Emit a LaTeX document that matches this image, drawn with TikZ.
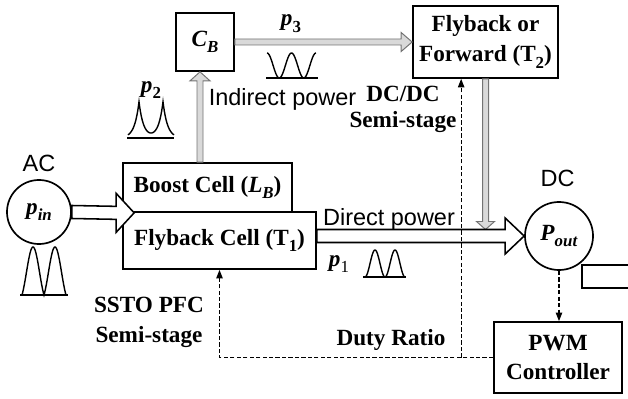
\documentclass[tikz,border=0pt]{standalone}
\usepackage{fontspec}
\setmainfont{Liberation Serif}
\setsansfont{Liberation Sans}
\usetikzlibrary{arrows.meta, calc}
\tikzset{
  blk/.style={draw, line width=1.2pt, align=center, inner sep=0pt, font=\bfseries\fontsize{16.5}{21.3}\selectfont},
  port/.style={draw, circle, line width=1.2pt, inner sep=0pt, font=\bfseries\fontsize{16.5}{20}\selectfont},
  fat/.style={draw, line width=1.1pt, fill=white},
  pipe/.style={draw=black!55, fill=black!15, line width=0.7pt},
  ctrl/.style={line width=0.9pt, dash pattern=on 3pt off 1.6pt, -{Triangle[length=6pt, width=4.5pt]}},
  lbl/.style={font=\sffamily\fontsize{16.7}{20}\selectfont, inner sep=0pt, anchor=base},
  tag/.style={font=\bfseries\fontsize{16.5}{21}\selectfont, align=center, inner sep=0pt},
  sig/.style={font=\bfseries\fontsize{16.5}{20}\selectfont, inner sep=0pt, anchor=base},
  wave/.style={line width=1pt},
}
\newcommand{\lowsub}[1]{\raisebox{-0.6ex}{\fontsize{12}{12}\selectfont #1}}
% hollow power arrows: tail, tip, half shaft, half head, head length
\newcommand{\hpipe}[6][fat]{%
  \draw[#1] ($(#2)+(0,-#4)$) -- ($(#3)+(-#6,-#4)$) -- ($(#3)+(-#6,-#5)$) -- (#3)
    -- ($(#3)+(-#6,#5)$) -- ($(#3)+(-#6,#4)$) -- ($(#2)+(0,#4)$) -- cycle;}
\newcommand{\vpipe}[6][fat]{%
  \draw[#1] ($(#2)+(-#4,0)$) -- ($(#3)+(-#4,#6)$) -- ($(#3)+(-#5,#6)$) -- (#3)
    -- ($(#3)+(#5,#6)$) -- ($(#3)+(#4,#6)$) -- ($(#2)+(#4,0)$) -- cycle;}

\begin{document}
\begin{tikzpicture}[x=0.025cm, y=-0.025cm]
  \useasboundingbox (0,0) rectangle (628,399);

  % blocks
  \node[blk, minimum width=1.45cm, minimum height=1.45cm] (CB) at (205,42) {\textit{C}\lowsub{\textit{B}}};
  \node[blk, minimum width=3.625cm, minimum height=1.8cm] (FF) at (485.5,42) {Flyback or\\Forward (T\lowsub{2})};
  \node[blk, minimum width=4.225cm, minimum height=1.225cm] (boost) at (207.5,187.5) {Boost Cell (\textit{L}\lowsub{\textit{B}})};
  \node[blk, minimum width=4.825cm, minimum height=1.425cm] (flyback) at (219.5,240.5) {Flyback Cell (T\lowsub{1})};
  \node[blk, font=\bfseries\fontsize{16.5}{20}\selectfont, minimum width=3.2cm, minimum height=1.775cm] (PWM) at (558,357.5) {PWM\\Controller};
  \node[port, minimum size=1.6cm] (AC) at (39,212) {\textit{p}\lowsub{\textit{in}}};
  \node[port, minimum size=1.7cm] (Pout) at (559,236) {\textit{P}\lowsub{\textit{out}}};
  \draw[line width=1.2pt] (629,265) -- (582,265) -- (582,288) -- (629,288);

  % power flow
  \coordinate (ibot) at ($(boost.north)+(-7.5,0)$);
  \coordinate (itop) at (ibot |- CB.south);
  \coordinate (dtip) at ($(FF.south |- Pout.west)+(0,-6.5)$);
  \coordinate (intip) at ($(boost.south west)+(12,0)$);
  \coordinate (dpfrom) at (flyback.east |- Pout.west);
  \vpipe[pipe]{ibot}{itop}{3}{10}{9}
  \hpipe[pipe]{CB.east}{FF.west}{3}{9.5}{11}
  \vpipe[pipe]{FF.south}{dtip}{3}{9}{-8}
  \hpipe{AC.east}{intip}{6.5}{19.5}{18}
  \hpipe{dpfrom}{Pout.west}{6.5}{18}{19}

  % control
  \coordinate (split) at ($(PWM.west)+(-32,0)$);
  \draw[ctrl] (PWM.west) -| (flyback.south);
  \draw[ctrl] (split) -- (split |- FF.south);
  \draw[ctrl] (Pout.south) -- (Pout.south |- PWM.north);

  % labels
  \node[lbl] (acl) at (39,172) {AC};
  \node[lbl] (dcl) at (557.5,187) {DC};
  \node[lbl] (ind) at (282.5,106) {Indirect power};
  \node[lbl] (dir) at (389,225) {Direct power};
  \node[tag, font=\bfseries\fontsize{16.5}{18.9}\selectfont] (dcdc) at (403,109.5) {DC/DC\\Semi-stage};
  \node[tag] (ssto) at (149,322.5) {SSTO PFC\\Semi-stage};
  \node[tag, anchor=base] (duty) at (391,345) {Duty Ratio};
  \node[sig] (p2) at (151,92.5) {\textit{p}\lowsub{2}};
  \node[sig] (p3) at (291,26) {\textit{p}\lowsub{3}};
  \node[sig] (p1) at (339,266) {\textit{p}\lowsub{\mdseries 1}};

  % waveforms
  \draw[wave] (20,295) -- (68,295);
  \draw[wave] plot[domain=0:360, samples=73] ({22+\x/360*44}, {295-48*(0.5*abs(sin(\x))+0.5*sin(\x)^2)});
  \draw[wave] (127,138) -- (174,138);
  \draw[wave] plot[domain=128:174, samples=93] (\x, {138-36*(exp(-abs(\x-139)/4.5)+exp(-abs(\x-163)/4.5))});
  \draw[wave] (266,78) -- (318,78);
  \draw[wave] plot[domain=0:360, samples=73] ({267+\x/360*49}, {78-25*cos(\x)^2});
  \draw[wave] (363,277) -- (406,277);
  \draw[wave] plot[domain=0:360, samples=73] ({365+\x/360*40}, {277-27*sin(\x)^2});
\end{tikzpicture}
\end{document}
